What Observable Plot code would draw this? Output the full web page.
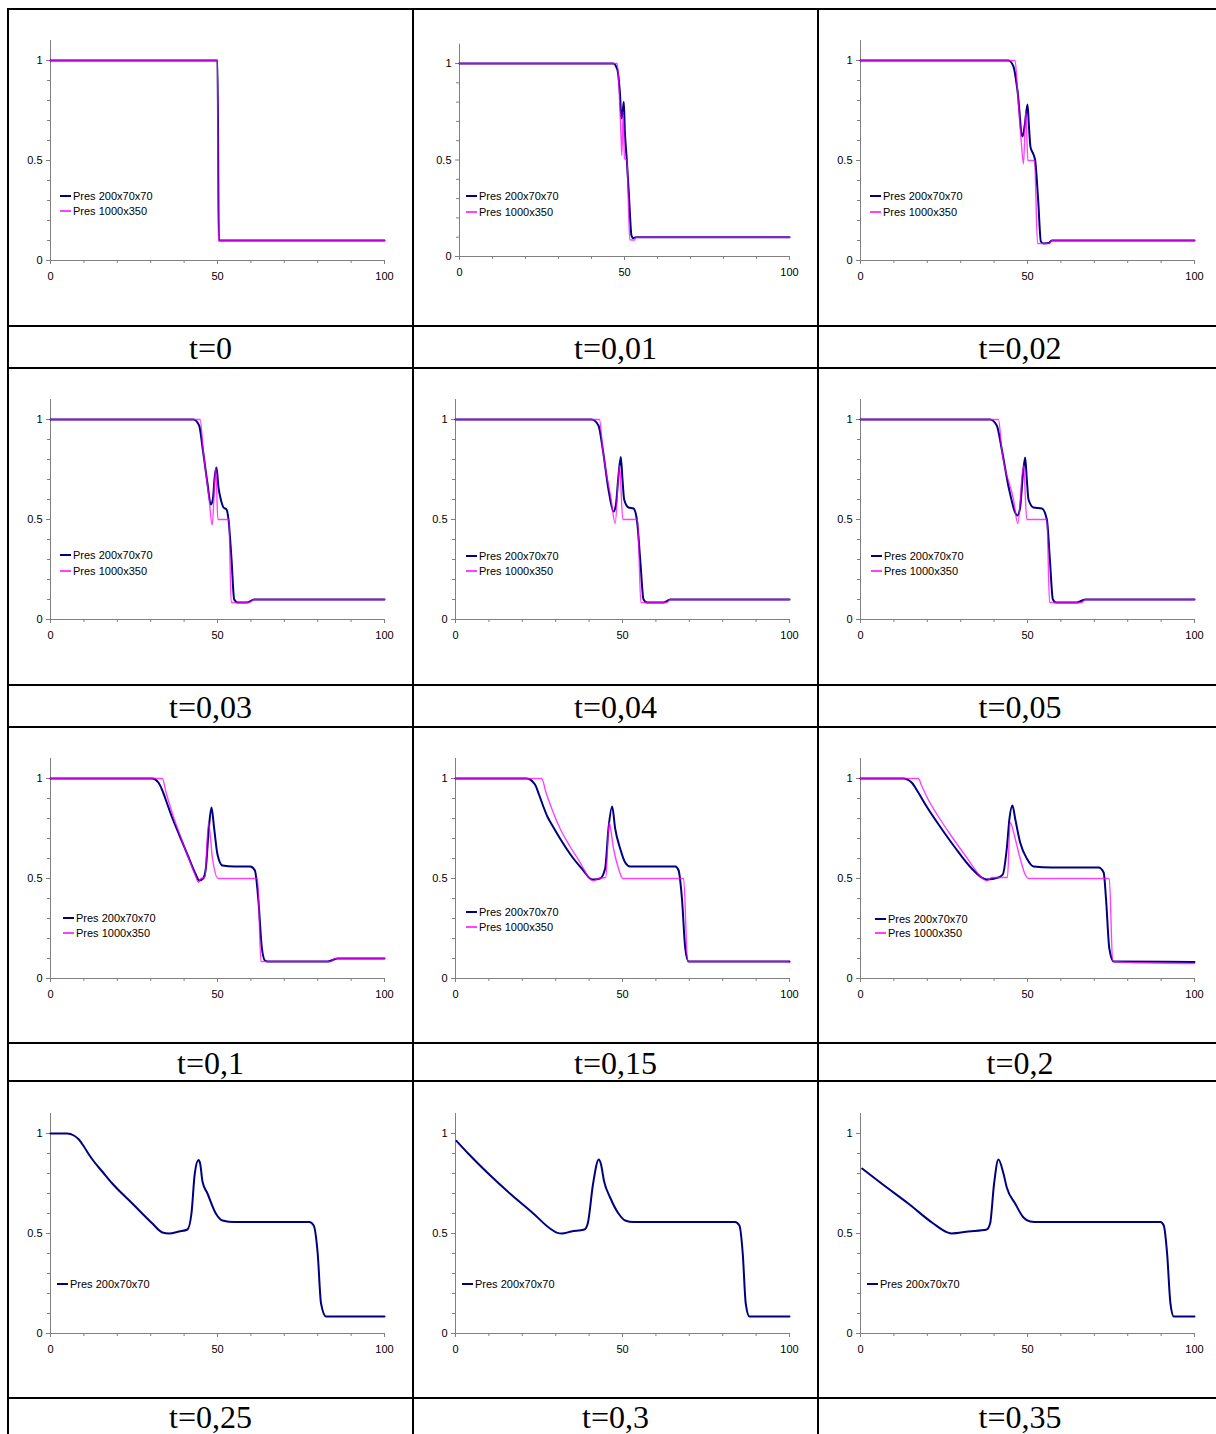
<!DOCTYPE html>
<html><head><meta charset="utf-8">
<script src="https://cdn.jsdelivr.net/npm/d3@7"></script>
<script src="https://cdn.jsdelivr.net/npm/@observablehq/plot@0.6"></script>
<style>
body{margin:0;background:#fff;}
#page{position:relative;width:1216px;height:1434px;overflow:hidden;background:#fff;}
.hl{position:absolute;height:2px;background:#000;}
.vl{position:absolute;width:2px;background:#000;}
.cap{position:absolute;font-family:"Liberation Serif","Times New Roman",serif;font-size:32px;line-height:32px;text-align:center;color:#000;}
.sw{position:absolute;width:11px;}
.lt{position:absolute;font-family:"Liberation Sans",Arial,sans-serif;font-size:11px;line-height:14px;white-space:nowrap;color:#000;}
.plot{position:absolute;}
</style></head><body><div id="page"></div>
<script>
// ---------- data: [x, pressure] ----------
const coarse_t0   = [[0,1],[50,1],[50.4,0.1],[100,0.1]];
const fine_t0     = [[0,1],[50,1],[50.2,0.1],[100,0.1]];
const coarse_t001 = [[0,1],[46.6,1],[47.8,0.97],[48.6,0.85],[49.1,0.715],[49.5,0.76],[49.8,0.80],[50.1,0.65],[50.4,0.57],[50.7,0.5],[51.4,0.3],[52.1,0.11],[52.6,0.095],[53.5,0.1],[100,0.1]];
const fine_t001   = [[0,1],[47.8,1],[48.4,0.85],[49,0.6],[49.2,0.524],[49.6,0.75],[50,0.507],[50.7,0.5],[51.6,0.087],[53.1,0.085],[53.4,0.1],[100,0.1]];
const coarse_t002 = [[0,1],[44.3,1],[45.8,0.97],[47,0.85],[48.5,0.62],[49.2,0.68],[50,0.78],[50.4,0.68],[50.9,0.567],[51.8,0.53],[52.3,0.5],[53.2,0.3],[54,0.095],[54.8,0.085],[56.3,0.087],[57.3,0.1],[100,0.1]];
const fine_t002   = [[0,1],[46.3,1],[47,0.85],[48.1,0.6],[48.8,0.483],[49.5,0.75],[50.1,0.5],[52.1,0.5],[53,0.085],[56.6,0.085],[57.3,0.1],[100,0.1]];
const coarse_t003 = [[0,1],[42.8,1],[44.5,0.97],[45.6,0.85],[47,0.68],[48,0.575],[48.6,0.6],[49.2,0.72],[49.7,0.76],[50.3,0.66],[51,0.6],[51.8,0.56],[52.7,0.55],[53.3,0.5],[54.2,0.3],[55,0.1],[56,0.085],[58.8,0.085],[61,0.1],[100,0.1]];
const fine_t003   = [[0,1],[44.8,1],[45.7,0.85],[47.5,0.6],[48.4,0.472],[49.5,0.76],[50.1,0.5],[53.4,0.5],[54.1,0.085],[59.5,0.085],[61,0.1],[100,0.1]];
const coarse_t004 = [[0,1],[40.8,1],[42.8,0.97],[44.1,0.85],[45.8,0.65],[47.3,0.54],[48,0.57],[48.8,0.72],[49.5,0.813],[50,0.7],[50.5,0.6],[51.8,0.56],[53.3,0.555],[54.3,0.5],[55.3,0.3],[56.3,0.1],[57.3,0.085],[62.3,0.085],[64.3,0.1],[100,0.1]];
const fine_t004   = [[0,1],[43.1,1],[44.1,0.85],[46.6,0.6],[47.8,0.48],[49.1,0.77],[50.1,0.5],[54.5,0.5],[55.5,0.085],[63.3,0.085],[64.3,0.1],[100,0.1]];
const coarse_t005 = [[0,1],[38.8,1],[40.8,0.97],[42.3,0.85],[44.5,0.65],[47,0.52],[47.8,0.56],[48.6,0.72],[49.3,0.81],[49.8,0.7],[50.3,0.6],[51.8,0.56],[54.3,0.555],[55.8,0.5],[56.7,0.3],[57.6,0.1],[58.5,0.085],[64.8,0.085],[67.3,0.1],[100,0.1]];
const fine_t005   = [[0,1],[41.3,1],[42.3,0.85],[45.8,0.6],[47.1,0.48],[48.8,0.77],[49.8,0.5],[55.8,0.5],[56.6,0.085],[66.3,0.085],[67.3,0.1],[100,0.1]];
const coarse_t01  = [[0,1],[30.5,1],[32.3,0.98],[33.5,0.94],[34.8,0.88],[36.3,0.81],[38.5,0.72],[41,0.62],[43.5,0.52],[44.5,0.49],[45.7,0.5],[46.5,0.55],[47.4,0.75],[48.2,0.855],[49,0.75],[50,0.62],[51.5,0.565],[55,0.56],[59.8,0.56],[61.2,0.54],[62.2,0.4],[63.3,0.15],[64.2,0.09],[65,0.085],[83,0.085],[86,0.1],[100,0.1]];
const fine_t01    = [[0,1],[33.5,1],[34.6,0.93],[36.2,0.84],[38.7,0.72],[41.2,0.61],[43.5,0.51],[44.3,0.48],[45,0.5],[46.2,0.505],[47.3,0.778],[48.5,0.6],[50.2,0.5],[62,0.5],[63,0.085],[84,0.085],[85,0.1],[100,0.1]];
const coarse_t015 = [[0,1],[21.3,1],[23.8,0.97],[25,0.92],[26.3,0.86],[27.5,0.81],[29,0.765],[31.3,0.7],[35.3,0.6],[38.3,0.54],[40.3,0.5],[41.3,0.495],[43.3,0.5],[44.8,0.55],[45.8,0.75],[46.9,0.86],[47.8,0.75],[49.3,0.65],[50.8,0.58],[52.3,0.56],[65.8,0.56],[66.8,0.54],[67.8,0.4],[68.8,0.15],[69.8,0.085],[100,0.085]];
const fine_t015   = [[0,1],[25.8,1],[27.1,0.93],[28.8,0.85],[31.3,0.75],[34.3,0.66],[37.3,0.58],[40.1,0.5],[41.1,0.488],[42.8,0.5],[45,0.505],[46,0.78],[47.3,0.65],[48.8,0.55],[50.1,0.5],[68.3,0.5],[69.5,0.085],[99,0.085],[100,0.08]];
const coarse_t02  = [[0,1],[12.8,1],[15.3,0.98],[17.3,0.93],[19.8,0.86],[23.8,0.76],[28.3,0.655],[33.3,0.55],[36.8,0.5],[37.8,0.495],[41.3,0.505],[42.6,0.52],[43.8,0.65],[44.6,0.8],[45.5,0.865],[46.3,0.8],[47.8,0.68],[49.8,0.6],[51.8,0.56],[57.3,0.555],[71.3,0.555],[72.8,0.53],[73.5,0.4],[74.5,0.15],[75.8,0.085],[100,0.083]];
const fine_t02    = [[0,1],[17.3,1],[18.3,0.965],[19.8,0.91],[23.3,0.81],[27.3,0.71],[31.8,0.605],[36.6,0.5],[37.8,0.488],[39.3,0.505],[44,0.505],[44.8,0.78],[46.3,0.7],[47.8,0.6],[49.3,0.52],[50.3,0.5],[74.5,0.5],[75.5,0.085],[81.3,0.08],[100,0.075]];
const coarse_t025 = [[0,1],[5,1],[7,0.99],[8.5,0.97],[10,0.935],[11.5,0.895],[13,0.86],[15.5,0.81],[18.5,0.75],[24.5,0.65],[30.5,0.55],[33.5,0.505],[35.5,0.5],[38.5,0.51],[41,0.52],[42.2,0.6],[43.2,0.8],[44.3,0.867],[44.8,0.85],[45.5,0.76],[47,0.7],[49.5,0.6],[51.5,0.565],[55,0.557],[77.5,0.557],[78.8,0.54],[80,0.4],[81,0.15],[82.5,0.085],[100,0.085]];
const coarse_t03  = [[0.3,0.963],[3.8,0.9],[9.8,0.8],[16.3,0.7],[23.3,0.6],[28.3,0.525],[30.5,0.503],[31.8,0.5],[34.7,0.51],[38.6,0.52],[39.6,0.55],[41.2,0.75],[42.9,0.87],[43.5,0.85],[44.5,0.76],[46.3,0.68],[48.8,0.6],[50.8,0.565],[53.3,0.557],[83.7,0.557],[85,0.54],[86,0.4],[86.9,0.15],[88,0.085],[100,0.085]];
const coarse_t035 = [[0.5,0.825],[6.3,0.75],[14.3,0.65],[21.8,0.55],[25.8,0.507],[27.3,0.5],[32.3,0.51],[37.8,0.52],[38.8,0.55],[40,0.75],[41.3,0.87],[42.8,0.8],[43.8,0.73],[46.3,0.65],[48.8,0.58],[50.8,0.56],[53.3,0.557],[89.8,0.557],[90.8,0.54],[91.8,0.4],[92.8,0.15],[93.8,0.085],[100,0.085]];

const captions = ["t=0","t=0,01","t=0,02","t=0,03","t=0,04","t=0,05","t=0,1","t=0,15","t=0,2","t=0,25","t=0,3","t=0,35"];
const seriesNames = ["Pres 200x70x70","Pres 1000x350"];
const coarseSeries = [coarse_t0,coarse_t001,coarse_t002,coarse_t003,coarse_t004,coarse_t005,coarse_t01,coarse_t015,coarse_t02,coarse_t025,coarse_t03,coarse_t035];
const fineSeries   = [fine_t0,fine_t001,fine_t002,fine_t003,fine_t004,fine_t005,fine_t01,fine_t015,fine_t02,null,null,null];
const yMajor = [0, 0.5, 1];
const yMinor = [0.1,0.2,0.3,0.4,0.6,0.7,0.8,0.9];
const xMajor = [0, 50, 100];
const xMinor = [10,20,30,40,60,70,80,90];

// ---------- layout ----------
const NAVY = "#000080", MAGENTA = "#ff00ff", AXIS = "#808080";
const colLeft = [8, 413, 818], colRight = [413, 818, 1222];
const rowTop = [9, 368, 727, 1081], capTop = [326, 685, 1043, 1398];
const capCenter = [347.5, 706.5, 1062.5, 1416.5];
const colX0 = [50, 455, 860], colX100 = [384, 789, 1194];
const rowY0 = [260, 619, 978, 1333], rowY1 = [60, 419, 778, 1133];
const legendPos = [[60,196,211],[466,196,212],[870,196,212],[60,555,571],[466,556,571],[871,556,571],[63,918,933],[466,912,927],[875,919,933],[57,1284],[462,1284],[867,1284]];

const page = document.getElementById("page");
function el(cls, css, text) {
  const d = document.createElement("div");
  d.className = cls;
  Object.assign(d.style, css);
  if (text != null) d.textContent = text;
  page.appendChild(d);
  return d;
}

for (let i = 0; i < 12; i++) {
  const r = Math.floor(i / 3), c = i % 3;
  let x0 = colX0[c], x100 = colX100[c], y0 = rowY0[r], y1 = rowY1[r];
  if (i === 1) { x0 = 459; y0 = 256; y1 = 63; }
  const svgLeft = colLeft[c] + 2, svgTop = rowTop[r] + 2;
  const width = colRight[c] - colLeft[c] - 3;
  const height = capTop[r] - rowTop[r] - 3;
  const ytop = y0 - 1.1 * (y0 - y1);
  const marks = [
    Plot.ruleY([0], {stroke: AXIS}),
    Plot.ruleX([0], {stroke: AXIS}),
    Plot.axisY({ticks: yMajor, tickSize: 4, tickPadding: 4, stroke: AXIS, fill: "#000", tickFormat: d => String(d), label: null}),
    Plot.axisY({ticks: yMinor, tickSize: 3, stroke: AXIS, tickFormat: () => "", label: null}),
    Plot.axisX({ticks: xMajor, tickSize: 4, tickPadding: 8, stroke: AXIS, fill: "#000", tickFormat: d => String(d), label: null}),
    Plot.axisX({ticks: xMinor, tickSize: 3, stroke: AXIS, tickFormat: () => "", label: null}),
    Plot.line(coarseSeries[i], {x: d => d[0], y: d => d[1], stroke: NAVY, strokeWidth: 2, curve: "monotone-x"})
  ];
  if (fineSeries[i]) marks.push(Plot.line(fineSeries[i], {x: d => d[0], y: d => d[1], stroke: MAGENTA, strokeWidth: 1.4, strokeOpacity: 0.75, curve: "monotone-x"}));
  const svg = Plot.plot({
    width, height,
    marginLeft: x0 - svgLeft, marginRight: svgLeft + width - x100,
    marginTop: ytop - svgTop, marginBottom: svgTop + height - y0,
    x: {domain: [0, 100], axis: null},
    y: {domain: [0, 1.1], axis: null},
    style: {background: "transparent", fontFamily: "'Liberation Sans', Arial, sans-serif", fontSize: "11px", overflow: "visible"},
    marks
  });
  svg.classList.add("plot");
  svg.style.left = svgLeft + "px";
  svg.style.top = svgTop + "px";
  page.appendChild(svg);

  // legend
  const lp = legendPos[i];
  const n = fineSeries[i] ? 2 : 1;
  for (let k = 0; k < n; k++) {
    const ly = lp[1 + k];
    el("sw", {left: lp[0] + "px", top: (ly - 1) + "px", height: "2px", background: k === 0 ? NAVY : MAGENTA, opacity: k === 0 ? 1 : 0.75});
    el("lt", {left: (lp[0] + 13) + "px", top: (ly - 7) + "px"}, seriesNames[k]);
  }
  // caption
  el("cap", {left: colLeft[c] + "px", width: (colRight[c] - colLeft[c]) + "px", top: (capCenter[r] - 16) + "px"}, captions[i]);
}

// table lines
const hLines = [9, 326, 368, 685, 727, 1043, 1081, 1398];
hLines.forEach(y => el("hl", {left: "7px", width: "1215px", top: (y - 1) + "px"}));
[8, 413, 818].forEach(x => el("vl", {left: (x - 1) + "px", top: "8px", height: "1430px"}));
</script></body></html>
